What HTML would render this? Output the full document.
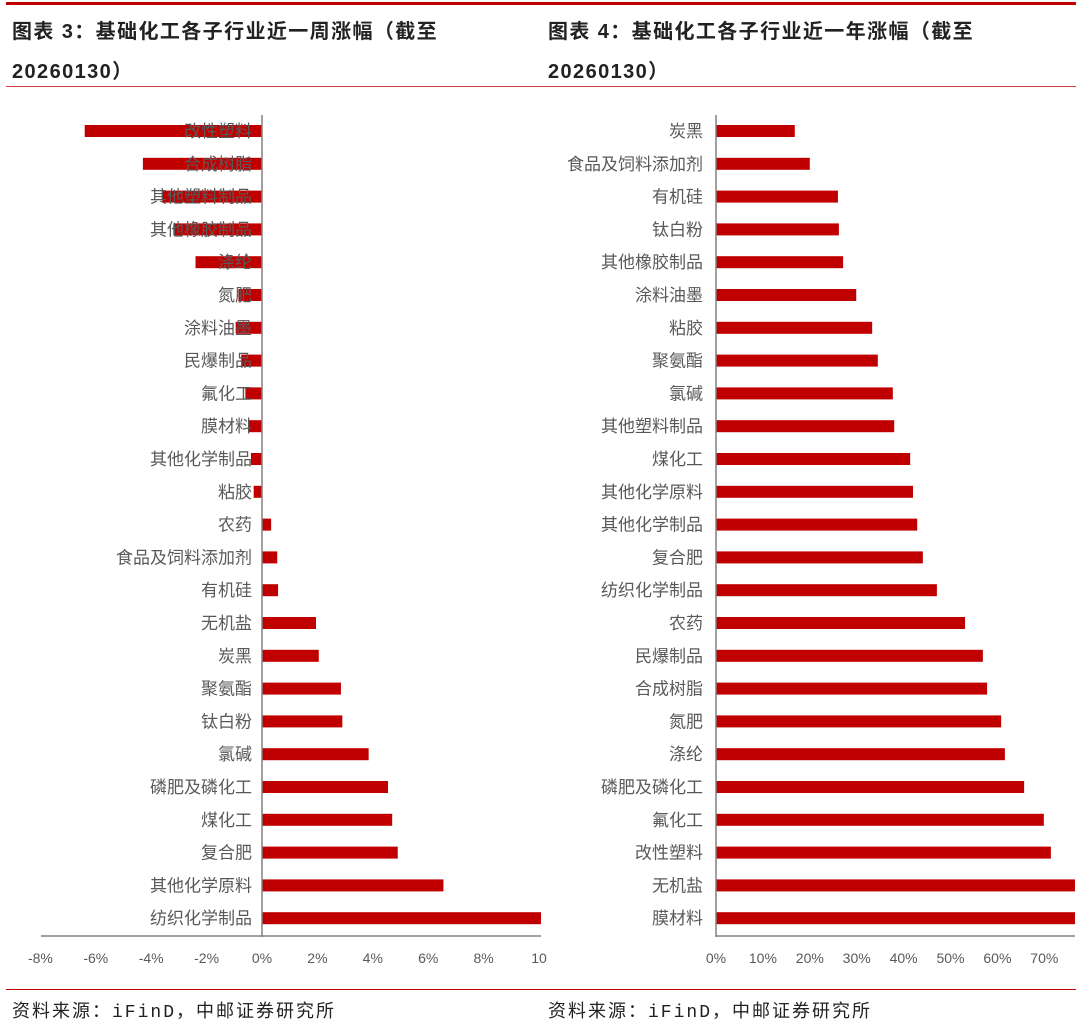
<!DOCTYPE html>
<html><head><meta charset="utf-8"><style>
body{margin:0;background:#fff;width:1080px;height:1024px;overflow:hidden;font-family:"Liberation Sans","Noto Sans CJK SC",sans-serif}
.t{position:absolute;font-weight:bold;font-size:20px;letter-spacing:1.4px;color:#222;font-family:"Liberation Sans","Noto Sans CJK SC",sans-serif}
.s{position:absolute;font-size:18px;letter-spacing:2px;color:#222;top:997px;font-family:"Liberation Mono","Noto Sans CJK SC",monospace}
</style></head><body>
<div style="position:absolute;left:6px;top:2px;width:1070px;height:3px;background:#c00000"></div>
<div class="t" style="left:12px;top:12px;line-height:40px">图表 3：基础化工各子行业近一周涨幅（截至<br>20260130）</div>
<div class="t" style="left:548px;top:12px;line-height:40px">图表 4：基础化工各子行业近一年涨幅（截至<br>20260130）</div>
<div style="position:absolute;left:6px;top:86px;width:1070px;height:1px;background:#d04040"></div>
<div style="position:absolute;left:6px;top:989px;width:1070px;height:1px;background:#c00000"></div>
<div class="s" style="left:12px">资料来源：iFinD，中邮证券研究所</div>
<div class="s" style="left:548px">资料来源：iFinD，中邮证券研究所</div>
<svg id="c" width="1080" height="1024" style="position:absolute;left:0;top:0"></svg>
<script>
const leftCats=["改性塑料","合成树脂","其他塑料制品","其他橡胶制品","涤纶","氮肥","涂料油墨","民爆制品","氟化工","膜材料","其他化学制品","粘胶","农药","食品及饲料添加剂","有机硅","无机盐","炭黑","聚氨酯","钛白粉","氯碱","磷肥及磷化工","煤化工","复合肥","其他化学原料","纺织化学制品"];
const leftVals=[-6.4,-4.3,-3.6,-3.2,-2.4,-0.85,-0.95,-0.75,-0.6,-0.5,-0.4,-0.3,0.33,0.55,0.58,1.95,2.05,2.85,2.9,3.85,4.55,4.7,4.9,6.55,10.1];
const leftTicks=["-8%","-6%","-4%","-2%","0%","2%","4%","6%","8%","10"];
const leftTickVals=[-8,-6,-4,-2,0,2,4,6,8,10];
const rightCats=["炭黑","食品及饲料添加剂","有机硅","钛白粉","其他橡胶制品","涂料油墨","粘胶","聚氨酯","氯碱","其他塑料制品","煤化工","其他化学原料","其他化学制品","复合肥","纺织化学制品","农药","民爆制品","合成树脂","氮肥","涤纶","磷肥及磷化工","氟化工","改性塑料","无机盐","膜材料"];
const rightVals=[16.8,20,26,26.2,27.1,29.9,33.3,34.5,37.7,38,41.4,42,42.9,44.1,47.1,53.1,56.9,57.8,60.8,61.6,65.7,69.9,71.4,80,80];
const rightTicks=["0%","10%","20%","30%","40%","50%","60%","70%"];
const rightTickVals=[0,10,20,30,40,50,60,70];
const svg=document.getElementById('c');const NS="http://www.w3.org/2000/svg";
function mk(tag,a,name){const e=document.createElementNS(NS,tag);for(const k in a)e.setAttribute(k,a[k]);


svg.appendChild(e);return e;}
const rowY=i=>131+i*32.8;
function chart(p,cats,vals,ticks,tvals,x0,scale,xmin,xmax,labR,clip){
 const X=v=>x0+v*scale;
 const cid='clip'+p;const cp=mk('clipPath',{id:cid},p+'-clip');const r=document.createElementNS(NS,'rect');
 r.setAttribute('x',0);r.setAttribute('y',0);r.setAttribute('width',clip);r.setAttribute('height',1024);cp.appendChild(r);
 vals.forEach((v,i)=>{const a=X(0),b=X(v);mk('rect',{x:Math.min(a,b),y:rowY(i)-6,width:Math.abs(b-a),height:12,fill:'#c00000','clip-path':'url(#'+cid+')'},p+'-bar');});
 cats.forEach((c,i)=>{const t=mk('text',{x:labR,y:rowY(i)+6,'text-anchor':'end','font-size':17,fill:'#595959','font-family':'"Liberation Sans","Noto Sans CJK SC",sans-serif'},p+'-category-label');t.textContent=c;});
 mk('line',{x1:X(0),x2:X(0),y1:115,y2:937,stroke:'#808080','stroke-width':1.5},p+'-y-axis');
 mk('line',{x1:xmin,x2:xmax,y1:936,y2:936,stroke:'#808080','stroke-width':1.5},p+'-x-axis');
 ticks.forEach((t,i)=>{const e=mk('text',{x:X(tvals[i]),y:963,'text-anchor':'middle','font-size':14,fill:'#595959','font-family':'"Liberation Sans Narrow","Liberation Sans",sans-serif'},p+'-tick-label');e.textContent=t;});
}
chart('left',leftCats,leftVals,leftTicks,leftTickVals,262,27.7,41,541,252,541);
chart('right',rightCats,rightVals,rightTicks,rightTickVals,716,4.69,716,1075,703,1075);
</script>
</body></html>
